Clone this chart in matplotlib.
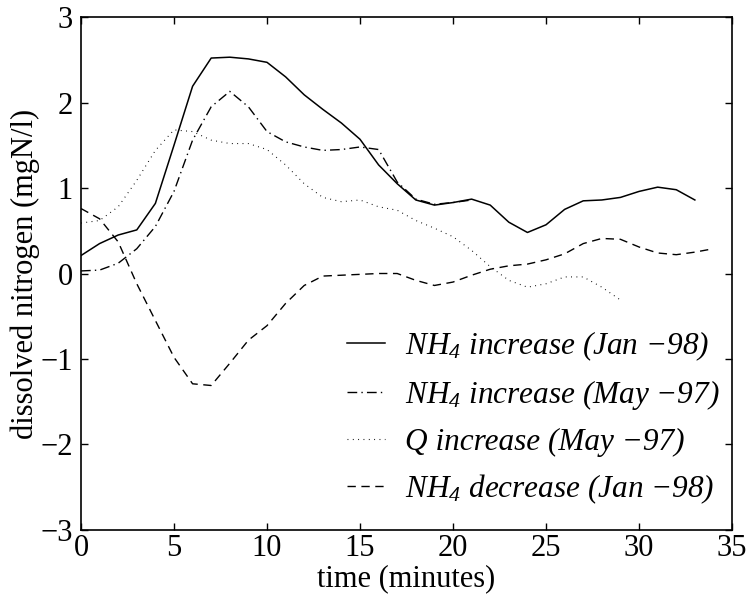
import numpy as np
import matplotlib
matplotlib.use("Agg")
import matplotlib.pyplot as plt

plt.rcParams['font.family'] = ['Liberation Serif', 'DejaVu Serif']
plt.rcParams['mathtext.fontset'] = 'custom'
plt.rcParams['mathtext.rm'] = 'Liberation Serif:italic'
plt.rcParams['mathtext.it'] = 'Liberation Serif:italic'

# dane (minuty, mgN/l)
t_jan_inc = np.arange(0, 34)
nh4_jan_inc = [0.21, 0.35, 0.45, 0.51, 0.82, 1.50, 2.19, 2.52, 2.53, 2.51,
               2.47, 2.30, 2.09, 1.92, 1.76, 1.57, 1.27, 1.05, 0.86, 0.80,
               0.83, 0.87, 0.80, 0.60, 0.48, 0.57, 0.75, 0.85, 0.86, 0.89,
               0.96, 1.01, 0.98, 0.86]

t_may_inc = np.arange(0, 22)
nh4_may_inc = [0.03, 0.04, 0.12, 0.29, 0.55, 0.96, 1.56, 1.95, 2.13, 1.95,
               1.66, 1.54, 1.48, 1.44, 1.45, 1.48, 1.45, 1.07, 0.87, 0.81,
               0.83, 0.86]

t_q_inc = np.arange(0, 30)
q_may_inc = [0.59, 0.62, 0.78, 1.09, 1.44, 1.68, 1.66, 1.56, 1.52, 1.52,
             1.45, 1.27, 1.05, 0.89, 0.84, 0.86, 0.78, 0.74, 0.62, 0.53,
             0.43, 0.27, 0.08, -0.08, -0.16, -0.12, -0.04, -0.04, -0.16, -0.31]

t_jan_dec = np.arange(0, 35)
nh4_jan_dec = [0.76, 0.64, 0.37, -0.12, -0.55, -0.98, -1.29, -1.31, -1.05, -0.78,
               -0.61, -0.35, -0.14, -0.03, -0.02, -0.01, 0.0, 0.0, -0.08, -0.14,
               -0.10, -0.02, 0.05, 0.09, 0.11, 0.16, 0.23, 0.35, 0.41, 0.40,
               0.31, 0.24, 0.22, 0.25, 0.29]

fig = plt.figure(figsize=(7.47, 5.99), dpi=100)
ax = fig.add_axes([0.1084, 0.1152, 0.8716, 0.8564])

ax.plot(t_jan_inc, nh4_jan_inc, color='black', linewidth=1.1,
        label=r'NH$_4$ increase (Jan −98)')
ax.plot(t_may_inc, nh4_may_inc, color='black', linewidth=1.0,
        dashes=(7, 3, 1, 3), label=r'NH$_4$ increase (May −97)')
ax.plot(t_q_inc, q_may_inc, color='black', linewidth=0.8,
        dashes=(0.8, 4), label='Q increase (May −97)')
ax.plot(t_jan_dec, nh4_jan_dec, color='black', linewidth=1.0,
        dashes=(6, 4), label=r'NH$_4$ decrease (Jan −98)')

ax.set_xlim(0, 35)
ax.set_ylim(-3, 3)
ax.set_xticks(np.arange(0, 36, 5))
ax.set_yticks(np.arange(-3, 4, 1))
ax.tick_params(direction='in', top=True, right=True, labelsize=22,
               length=5, width=1, pad=3)
ax.tick_params(axis='y', pad=6)
for s in ax.spines.values():
    s.set_linewidth(1.2)

ax.set_xlabel('time (minutes)', fontsize=22, labelpad=1)
ax.set_ylabel('dissolved nitrogen (mgN/l)', fontsize=22, labelpad=0)

ax.legend(loc='lower right', bbox_to_anchor=(1.0, 0.022), frameon=False,
          prop={'size': 22.5, 'style': 'italic'}, handlelength=1.2,
          handletextpad=0.65, labelspacing=0.5, borderpad=0.2,
          borderaxespad=0.2)

fig.savefig('out.png', dpi=100)
